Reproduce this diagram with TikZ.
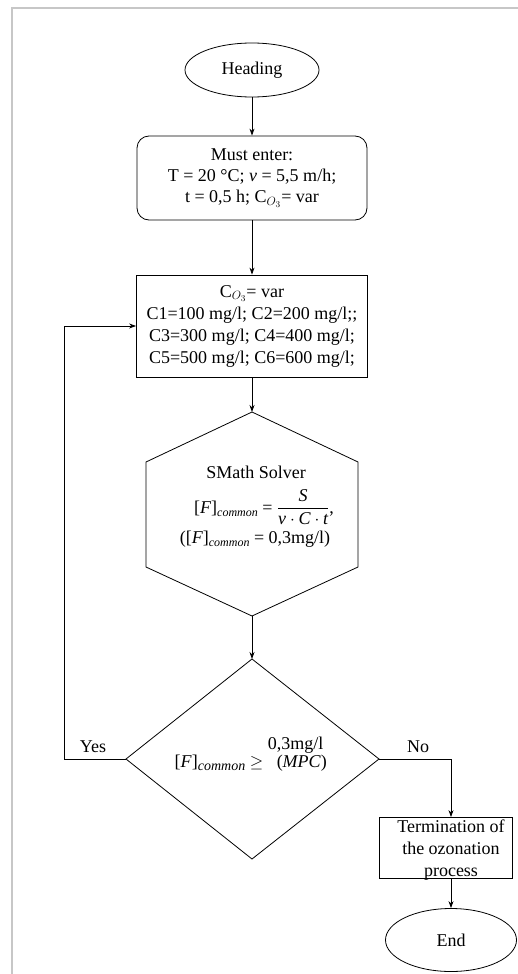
\documentclass[tikz,border=0pt]{standalone}
\usepackage{fontspec}
\setmainfont{Liberation Serif}
\usetikzlibrary{arrows.meta,shapes.geometric}
\newcommand\Fcom[1]{[\textit{F}]\raisebox{-3.5pt}{\fontsize{#1}{#1}\selectfont\itshape common}}
\begin{document}
\begin{tikzpicture}[x=1pt,y=-1pt,
  every node/.style={font=\fontsize{18}{21}\selectfont, align=center, inner sep=0pt},
  shp/.style={draw=black, line width=0.8pt},
  term/.style={shp, ellipse},
  procbox/.style={shp, rectangle},
  arr/.style={draw=black, line width=0.8pt, -{Stealth[length=7pt,width=5pt]}},
  lbl/.style={font=\fontsize{18}{21}\selectfont}]
\useasboundingbox (0,0) rectangle (518,974);
\draw[black!22, line width=1.6pt] (12,974) -- (12,8) -- (518,8);

% start
\node[term, minimum width=134pt, minimum height=54pt] (head) at (252,70) {Heading};
% input
\node[procbox, rounded corners=12pt, minimum width=230pt, minimum height=84pt] (enter) at (252,178)
  {Must enter:\\ T = 20 °C; \textit{ν} = 5,5 m/h;\\ t = 0,5 h; C$_{O_3}$= var};
% concentrations
\node[procbox, minimum width=231pt, minimum height=102pt, font=\fontsize{18}{22}\selectfont] (cbox) at (252,326)
  {C$_{O_3}$= var\\ C1=100 mg/l; C2=200 mg/l;;\\ C3=300 mg/l; C4=400 mg/l;\\ C5=500 mg/l; C6=600 mg/l;};
% hexagon
\coordinate (hT) at (252,412);
\coordinate (hB) at (252,616);
\draw[shp] (hT) -- (358,462) -- (358,567) -- (hB) -- (146,567) -- (146,462) -- cycle;
\node[anchor=base] (hex1) at (256,478) {SMath Solver};
\node[anchor=base] (hex2) at (264,513) {\Fcom{12} = $\displaystyle\frac{\hbox{\itshape S}}{\hbox{\itshape ν}\cdot\hbox{\itshape C}\cdot\hbox{\itshape t}}$,};
\node[anchor=base] (hex3) at (255,543) {(\Fcom{12} = 0,3mg/l)};
% decision
\coordinate (dT) at (252,659);
\coordinate (dR) at (379,759);
\coordinate (dB) at (252,859);
\coordinate (dL) at (126,759);
\draw[shp] (dT) -- (dR) -- (dB) -- (dL) -- cycle;
\node[anchor=base] (dec) at (249,767) {\Fcom{14} $\geq$ \rlap{\hspace{9pt}(\textit{MPC})}\raisebox{18pt}{0,3mg/l}};
% termination
\node[procbox, minimum width=133pt, minimum height=61pt] (termbox) at (446,848) {};
\node[font=\fontsize{18}{22}\selectfont] (termtxt) at (451,850) {Termination of\\ the ozonation\\ process};
% end
\node[term, minimum width=131pt, minimum height=63pt] (endn) at (451,940) {End};

% labels
\node[lbl] (yes) at (93,747) {Yes};
\node[lbl] (no) at (418,747) {No};

% connectors
\draw[arr] (head) -- (enter);
\draw[arr] (enter) -- (cbox);
\draw[arr] (cbox) -- (hT);
\draw[arr] (hB) -- (dT);
\coordinate (yc) at (64,759);
\draw[arr] (dL) -- (yc) |- (cbox.west);
\draw[arr] (dR) -| (termbox.north -| endn);
\draw[arr] (termbox.south -| endn) -- (endn);
\end{tikzpicture}
\end{document}
